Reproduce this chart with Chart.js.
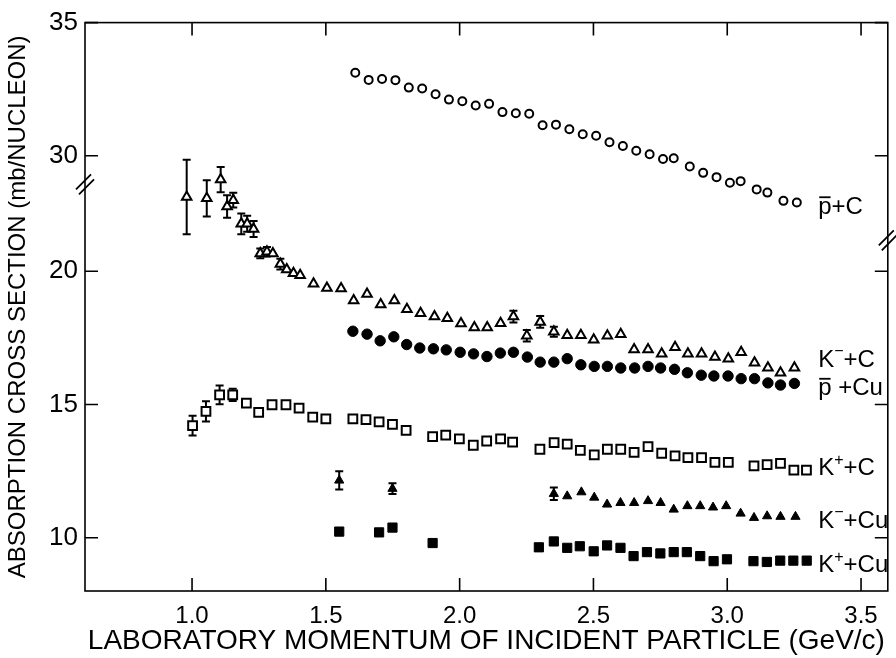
<!DOCTYPE html>
<html>
<head>
<meta charset="utf-8">
<script src="https://cdn.jsdelivr.net/npm/chart.js@4.4.1/dist/chart.umd.min.js"></script>
<style>
  html, body { margin: 0; padding: 0; background: #fff; }
</style>
</head>
<body>
<canvas id="chart" width="896" height="658"></canvas>
<script>
// broken y axis: the pbar+C block (30-35) is drawn shifted down by this much
var BREAK_SHIFT = 5.667;

var xTicks = [1.0, 1.5, 2.0, 2.5, 3.0, 3.5];
var yTicksLower = [10, 15, 20];
var yTicksUpper = [30, 35];

// pbar + C (upper block)
var pbarC_p = [1.61, 1.66, 1.71, 1.76, 1.81, 1.86, 1.91, 1.96, 2.01, 2.06, 2.11, 2.16, 2.21, 2.26, 2.31, 2.36, 2.41, 2.46, 2.51, 2.56,
    2.61, 2.66, 2.71, 2.76, 2.80, 2.86, 2.91, 2.96, 3.01, 3.05, 3.11, 3.15, 3.21, 3.26];
var pbarC_s = [33.12, 32.85, 32.88, 32.84, 32.56, 32.53, 32.31, 32.11, 32.05, 31.89, 31.95, 31.64, 31.60, 31.58, 31.15, 31.17, 31.00, 30.81, 30.75, 30.51,
    30.37, 30.19, 30.06, 29.88, 29.91, 29.60, 29.36, 29.20, 28.99, 29.05, 28.74, 28.62, 28.31, 28.25];

// K- + C
var kmC_p = [0.98, 1.055, 1.107, 1.131, 1.154, 1.184, 1.206, 1.23, 1.255, 1.28, 1.302, 1.33, 1.354, 1.379, 1.404, 1.454, 1.504, 1.557, 1.604, 1.654,
    1.705, 1.756, 1.803, 1.854, 1.906, 1.954, 2.005, 2.055, 2.103, 2.153, 2.201, 2.251, 2.301, 2.352, 2.402, 2.453, 2.501, 2.552, 2.602, 2.652,
    2.704, 2.755, 2.805, 2.853, 2.904, 2.954, 3.004, 3.052, 3.102, 3.152, 3.199, 3.251];
var kmC_s = [22.79, 22.74, 23.44, 22.43, 22.67, 21.78, 21.78, 21.59, 20.67, 20.73, 20.67, 20.27, 20.07, 19.93, 19.85, 19.53, 19.37, 19.35, 18.90, 19.15,
    18.75, 18.90, 18.57, 18.42, 18.30, 18.24, 18.04, 17.89, 17.89, 18.05, 18.30, 17.58, 18.10, 17.73, 17.60, 17.60, 17.43, 17.58, 17.64, 17.06,
    17.06, 16.90, 17.15, 16.90, 16.90, 16.78, 16.72, 16.96, 16.57, 16.38, 16.19, 16.38];
var kmC_err = [1.4, 0.68, 0.47, 0.42, 0.28, 0.39, 0.3, 0.3, 0.18, 0.18, 0, 0.2, 0, 0, 0, 0, 0, 0, 0, 0,
    0, 0, 0, 0, 0, 0, 0, 0, 0, 0, 0.22, 0.22, 0.22, 0.19, 0, 0, 0, 0, 0, 0,
    0, 0, 0, 0, 0, 0, 0, 0, 0, 0, 0, 0];

// pbar + Cu
var pbarCu_p = [1.601, 1.654, 1.703, 1.754, 1.802, 1.851, 1.902, 1.950, 2.002, 2.052, 2.102, 2.152, 2.201, 2.253, 2.301, 2.352, 2.402, 2.453, 2.503, 2.552,
    2.602, 2.654, 2.704, 2.751, 2.803, 2.851, 2.903, 2.950, 3.003, 3.052, 3.102, 3.152, 3.199, 3.251];
var pbarCu_s = [17.75, 17.64, 17.39, 17.54, 17.25, 17.12, 17.09, 17.05, 16.96, 16.90, 16.80, 16.93, 16.96, 16.78, 16.59, 16.59, 16.72, 16.49, 16.43, 16.43,
    16.37, 16.37, 16.43, 16.37, 16.32, 16.19, 16.10, 16.07, 16.07, 15.97, 15.97, 15.81, 15.73, 15.79];

// K+ + C
var kpC_p = [1.002, 1.052, 1.103, 1.152, 1.203, 1.249, 1.299, 1.351, 1.400, 1.451, 1.500, 1.601, 1.650, 1.699, 1.749, 1.800, 1.899, 1.948, 1.999, 2.051,
    2.101, 2.153, 2.198, 2.300, 2.353, 2.402, 2.451, 2.503, 2.552, 2.602, 2.652, 2.704, 2.755, 2.805, 2.853, 2.904, 2.954, 3.004, 3.100, 3.149,
    3.199, 3.249, 3.296];
var kpC_s = [14.21, 14.74, 15.36, 15.36, 15.05, 14.70, 14.99, 14.99, 14.86, 14.53, 14.46, 14.46, 14.43, 14.35, 14.25, 14.03, 13.79, 13.85, 13.71, 13.47,
    13.63, 13.71, 13.59, 13.32, 13.57, 13.51, 13.28, 13.11, 13.32, 13.32, 13.20, 13.42, 13.17, 13.07, 13.01, 13.01, 12.83, 12.83, 12.70, 12.74,
    12.79, 12.54, 12.54];
var kpC_err = [0.37, 0.38, 0.35, 0.23, 0, 0, 0, 0, 0, 0, 0, 0, 0, 0, 0, 0, 0, 0, 0, 0,
    0, 0, 0, 0, 0, 0, 0, 0, 0, 0, 0, 0, 0, 0, 0, 0, 0, 0, 0, 0,
    0, 0, 0];

// K- + Cu
var kmCu_p = [1.550, 1.749, 2.352, 2.402, 2.455, 2.503, 2.551, 2.601, 2.652, 2.704, 2.751, 2.800, 2.851, 2.899, 2.947, 2.996, 3.050, 3.100, 3.149, 3.199, 3.255];
var kmCu_s = [12.15, 11.84, 11.65, 11.56, 11.71, 11.51, 11.25, 11.31, 11.31, 11.38, 11.31, 11.06, 11.19, 11.19, 11.14, 11.19, 10.91, 10.75, 10.81, 10.79, 10.79];
var kmCu_err = [0.34, 0.2, 0.23, 0, 0, 0, 0, 0, 0, 0, 0, 0, 0, 0, 0, 0, 0, 0, 0, 0, 0];

// K+ + Cu
var kpCu_p = [1.550, 1.699, 1.749, 1.899, 2.296, 2.352, 2.402, 2.449, 2.501, 2.551, 2.601, 2.650, 2.700, 2.750, 2.800, 2.849, 2.899, 2.949, 2.999, 3.098,
    3.148, 3.198, 3.247, 3.297];
var kpCu_s = [10.23, 10.20, 10.38, 9.80, 9.64, 9.86, 9.62, 9.68, 9.49, 9.71, 9.62, 9.31, 9.46, 9.41, 9.46, 9.46, 9.31, 9.12, 9.19, 9.12,
    9.09, 9.14, 9.14, 9.14];

// curve labels on the right: text pieces and the cross section they sit at
var curveLabels = [
    { parts: [{ t: 'p', bar: true }, { t: '+C' }], s: 28.07, upper: true },
    { parts: [{ t: 'K' }, { t: '\u2212', sup: true }, { t: '+C' }], s: 16.67 },
    { parts: [{ t: 'p', bar: true }, { t: ' +Cu' }], s: 15.59 },
    { parts: [{ t: 'K' }, { t: '+', sup: true }, { t: '+C' }], s: 12.59 },
    { parts: [{ t: 'K' }, { t: '\u2212', sup: true }, { t: '+Cu' }], s: 10.63 },
    { parts: [{ t: 'K' }, { t: '+', sup: true }, { t: '+Cu' }], s: 8.96 }
];
var labelX = 3.34;

function axisY(v, upper) {
    return upper ? v - BREAK_SHIFT : v;
}
function points(p, s, upper) {
    return p.map(function (x, i) { return { x: x, y: axisY(s[i], upper) }; });
}

var FONT = "'Liberation Sans', Arial, sans-serif";
var NARROW = "'Liberation Sans Narrow', 'Liberation Sans', Arial, sans-serif";

var errorBars = {
    id: 'errorBars',
    beforeDatasetsDraw: function (chart) {
        var ctx = chart.ctx, ys = chart.scales.y;
        ctx.save();
        ctx.strokeStyle = '#000';
        ctx.lineWidth = 2;
        chart.data.datasets.forEach(function (ds, di) {
            if (!ds.errors) return;
            var meta = chart.getDatasetMeta(di);
            meta.data.forEach(function (el, i) {
                var e = ds.errors[i];
                if (!e) return;
                var v = ds.data[i].y;
                var top = ys.getPixelForValue(v + e), bot = ys.getPixelForValue(v - e);
                ctx.beginPath();
                ctx.moveTo(el.x, top); ctx.lineTo(el.x, bot);
                ctx.moveTo(el.x - 4, top); ctx.lineTo(el.x + 4, top);
                ctx.moveTo(el.x - 4, bot); ctx.lineTo(el.x + 4, bot);
                ctx.stroke();
            });
        });
        ctx.restore();
    }
};

var frame = {
    id: 'frame',
    afterDraw: function (chart) {
        var ctx = chart.ctx, a = chart.chartArea;
        var xs = chart.scales.x, ys = chart.scales.y;
        ctx.save();
        ctx.strokeStyle = '#000';
        ctx.lineWidth = 1.6;
        ctx.strokeRect(a.left, a.top, a.right - a.left, a.bottom - a.top);
        ctx.beginPath();
        xTicks.forEach(function (v) {
            var px = xs.getPixelForValue(v);
            ctx.moveTo(px, a.bottom); ctx.lineTo(px, a.bottom - 13);
            ctx.moveTo(px, a.top); ctx.lineTo(px, a.top + 13);
        });
        ys.ticks.forEach(function (t) {
            var py = ys.getPixelForValue(t.value);
            ctx.moveTo(a.left, py); ctx.lineTo(a.left + 13, py);
            ctx.moveTo(a.right, py); ctx.lineTo(a.right - 13, py);
        });
        ctx.stroke();
        // axis break marks
        ctx.lineWidth = 1.8;
        var lb = ys.getPixelForValue(23.3), rb = ys.getPixelForValue(21.2);
        ctx.beginPath();
        [[a.left, lb], [a.right, rb]].forEach(function (b) {
            ctx.moveTo(b[0] - 9, b[1] + 6); ctx.lineTo(b[0] + 6, b[1] - 9);
            ctx.moveTo(b[0] - 6, b[1] + 11); ctx.lineTo(b[0] + 9, b[1] - 4);
        });
        ctx.stroke();
        // curve labels
        ctx.fillStyle = '#000';
        ctx.textBaseline = 'middle';
        ctx.textAlign = 'left';
        curveLabels.forEach(function (lab) {
            var x = xs.getPixelForValue(labelX);
            var y = ys.getPixelForValue(axisY(lab.s, lab.upper));
            lab.parts.forEach(function (part) {
                if (part.sup) {
                    ctx.font = '16px ' + FONT;
                    ctx.fillText(part.t, x, y - 8);
                } else {
                    ctx.font = '24px ' + FONT;
                    ctx.fillText(part.t, x, y);
                }
                var w = ctx.measureText(part.t).width;
                if (part.bar) {
                    ctx.beginPath();
                    ctx.lineWidth = 1.8;
                    ctx.moveTo(x + 1, y - 10); ctx.lineTo(x + w - 1, y - 10);
                    ctx.stroke();
                }
                x += w;
            });
        });
        ctx.restore();
    }
};

var openStyle = { backgroundColor: '#fff', borderColor: '#000', borderWidth: 2 };
var fillStyle = { backgroundColor: '#000', borderColor: '#000', borderWidth: 1 };

new Chart(document.getElementById('chart'), {
    type: 'scatter',
    data: {
        datasets: [
            Object.assign({ label: 'pbar+C', data: points(pbarC_p, pbarC_s, true), pointStyle: 'circle', pointRadius: 4 }, openStyle),
            Object.assign({ label: 'K-+C', data: points(kmC_p, kmC_s), errors: kmC_err, pointStyle: 'triangle', pointRadius: 5.5 }, openStyle),
            Object.assign({ label: 'pbar+Cu', data: points(pbarCu_p, pbarCu_s), pointStyle: 'circle', pointRadius: 5.2 }, fillStyle),
            Object.assign({ label: 'K++C', data: points(kpC_p, kpC_s), errors: kpC_err, pointStyle: 'rect', pointRadius: 6.2 }, openStyle),
            Object.assign({ label: 'K-+Cu', data: points(kmCu_p, kmCu_s), errors: kmCu_err, pointStyle: 'triangle', pointRadius: 5.3 }, fillStyle),
            Object.assign({ label: 'K++Cu', data: points(kpCu_p, kpCu_s), pointStyle: 'rect', pointRadius: 6.5 }, fillStyle)
        ]
    },
    options: {
        responsive: false,
        animation: false,
        layout: { padding: { top: 16, right: 8, left: 0, bottom: 0 } },
        plugins: { legend: { display: false }, tooltip: { enabled: false } },
        scales: {
            x: {
                type: 'linear', min: 0.6, max: 3.6,
                afterBuildTicks: function (s) { s.ticks = xTicks.map(function (v) { return { value: v }; }); },
                afterFit: function (s) { s.height = 67; },
                grid: { display: false, drawTicks: false },
                border: { display: false },
                ticks: { color: '#000', padding: 11, font: { family: FONT, size: 24 }, callback: function (v) { return v.toFixed(1); } },
                title: { display: true, text: 'LABORATORY MOMENTUM OF INCIDENT PARTICLE (GeV/c)', color: '#000',
                    font: { family: NARROW, size: 28 }, padding: { top: 0, bottom: 0 } }
            },
            y: {
                type: 'linear', min: 8, max: 35 - BREAK_SHIFT,
                afterBuildTicks: function (s) {
                    s.ticks = yTicksLower.map(function (v) { return { value: v }; })
                        .concat(yTicksUpper.map(function (v) { return { value: v - BREAK_SHIFT }; }));
                },
                afterFit: function (s) { s.width = 85; },
                grid: { display: false, drawTicks: false },
                border: { display: false },
                ticks: { color: '#000', padding: 7, font: { family: FONT, size: 26 },
                    callback: function (v) { return Math.round(v > 22 ? v + BREAK_SHIFT : v); } },
                title: { display: true, text: 'ABSORPTION CROSS SECTION (mb/NUCLEON)', color: '#000',
                    font: { family: FONT, size: 24 }, padding: { top: 4, bottom: 0 } }
            }
        }
    },
    plugins: [errorBars, frame]
});
</script>
</body>
</html>
